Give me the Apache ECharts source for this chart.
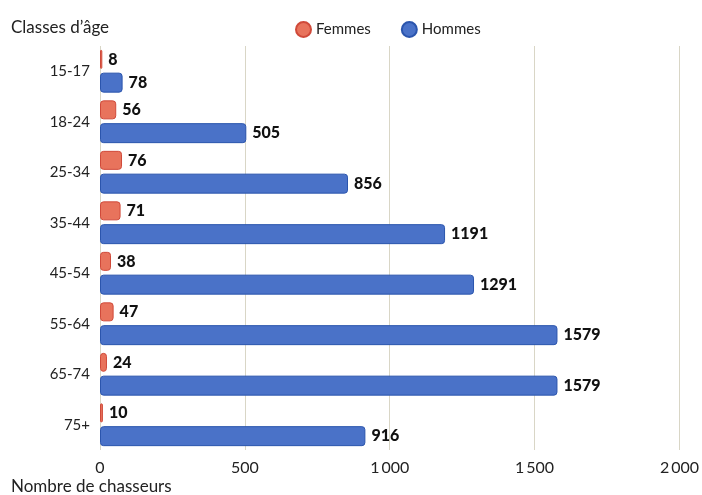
<!DOCTYPE html>
<html><head><meta charset="utf-8">
<script src="https://cdn.jsdelivr.net/npm/echarts@6/dist/echarts.min.js"></script>
<style>html,body{margin:0;padding:0;background:#fff}#c{width:702px;height:495px}</style>
</head><body><div id="c"></div>
<script>
const categories = ['15-17','18-24','25-34','35-44','45-54','55-64','65-74','75+'];
const femmes = [8, 56, 76, 71, 38, 47, 24, 10];
const hommes = [78, 505, 856, 1191, 1291, 1579, 1579, 916];
const xTicks = [0, 500, 1000, 1500, 2000];

const chart = echarts.init(document.getElementById('c'));
const lbl = {show: true, position: 'right', distance: 6, color: '#111', fontWeight: 900, fontSize: 16, fontFamily: 'Lato'};
chart.setOption({
  animation: false,
  textStyle: {fontFamily: 'Lato'},
  title: [
    {text: 'Classes d\u2019\u00e2ge', left: 6, top: 14, textStyle: {fontSize: 17, fontWeight: 'normal', color: '#222', fontFamily: 'Lato'}},
    {text: 'Nombre de chasseurs', left: 6, top: 473, textStyle: {fontSize: 17, fontWeight: 'normal', color: '#222', fontFamily: 'Lato'}}
  ],
  legend: {
    left: 290, top: 16, itemGap: 30, itemWidth: 15, itemHeight: 15, icon: 'circle',
    textStyle: {fontSize: 15, color: '#222', fontFamily: 'Lato'},
    data: ['Femmes', 'Hommes']
  },
  grid: {left: 100, right: 20, top: 46, bottom: 45, containLabel: false},
  xAxis: {
    type: 'value', min: xTicks[0], max: xTicks[xTicks.length - 1], interval: xTicks[1] - xTicks[0],
    axisLine: {show: false}, axisTick: {show: false},
    axisLabel: {color: '#222', fontSize: 16, margin: 10, formatter: v => v >= 1000 ? (Math.floor(v/1000) + '\u2009' + String(v % 1000).padStart(3,'0')) : String(v)},
    splitLine: {show: true, lineStyle: {color: '#d9d6c6', width: 1}}
  },
  yAxis: {
    type: 'category', data: categories, inverse: true,
    axisLine: {show: false}, axisTick: {show: false},
    axisLabel: {color: '#222', fontSize: 15, margin: 10}
  },
  series: [
    {name: 'Femmes', type: 'bar', data: femmes, barWidth: 19, barGap: '20%',
     itemStyle: {color: '#e8735c', borderColor: '#d04a3a', borderWidth: 1, borderRadius: 3},
     label: lbl},
    {name: 'Hommes', type: 'bar', data: hommes, barWidth: 20,
     itemStyle: {color: '#4a72c8', borderColor: '#2b55ad', borderWidth: 1, borderRadius: 3},
     label: lbl}
  ]
});
</script></body></html>
